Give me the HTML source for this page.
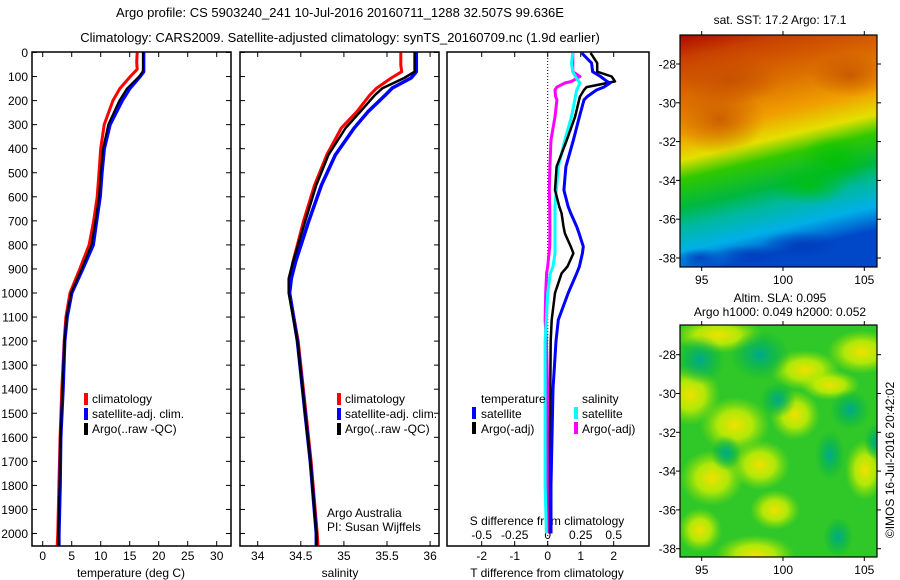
<!DOCTYPE html>
<html><head><meta charset="utf-8">
<style>
body{margin:0;background:#fff;}
svg{display:block;font-family:"Liberation Sans",sans-serif;}
text{fill:#000;}
</style></head>
<body>
<svg id="s" width="900" height="580" viewBox="0 0 900 580">
<defs>
<linearGradient id="sstg" x1="0" y1="0" x2="0.2" y2="1">
<stop offset="0" stop-color="#b00800"/>
<stop offset="0.1" stop-color="#c84000"/>
<stop offset="0.28" stop-color="#dc7000"/>
<stop offset="0.42" stop-color="#f0a000"/>
<stop offset="0.52" stop-color="#e4e000"/>
<stop offset="0.6" stop-color="#30c800"/>
<stop offset="0.72" stop-color="#00b840"/>
<stop offset="0.8" stop-color="#00b8a0"/>
<stop offset="0.9" stop-color="#00b0e8"/>
<stop offset="1" stop-color="#0048c8"/>
</linearGradient>
<radialGradient id="yb"><stop offset="0" stop-color="#f0e000"/><stop offset="0.5" stop-color="#d0f000" stop-opacity="0.8"/><stop offset="1" stop-color="#a0e000" stop-opacity="0"/></radialGradient>
<radialGradient id="tb"><stop offset="0" stop-color="#00a890"/><stop offset="0.5" stop-color="#00b060" stop-opacity="0.6"/><stop offset="1" stop-color="#00b040" stop-opacity="0"/></radialGradient>
<radialGradient id="ob"><stop offset="0" stop-color="#c04800" stop-opacity="0.7"/><stop offset="1" stop-color="#c04800" stop-opacity="0"/></radialGradient>
<radialGradient id="bb"><stop offset="0" stop-color="#0038b8" stop-opacity="0.8"/><stop offset="1" stop-color="#0038b8" stop-opacity="0"/></radialGradient>
<radialGradient id="gb"><stop offset="0" stop-color="#00c000" stop-opacity="0.8"/><stop offset="1" stop-color="#00c000" stop-opacity="0"/></radialGradient>
<clipPath id="c1"><rect x="32" y="52" width="199" height="494"/></clipPath>
<clipPath id="c2"><rect x="240" y="52" width="199" height="494"/></clipPath>
<clipPath id="c3"><rect x="447" y="52" width="202" height="494"/></clipPath>
<clipPath id="m1c"><rect x="680" y="35" width="197" height="232"/></clipPath>
<clipPath id="m2c"><rect x="680" y="325" width="197" height="232"/></clipPath>
</defs>
<g id="root"></g>
</svg>
<script>
const depthT = [0,40,70,80,100,150,200,300,400,500,600,700,800,900,1000,1100,1200,1400,1600,1800,2000,2050];
const tempClim = [16.3,16.2,16.3,15.9,15.1,13.3,12.1,10.6,10.0,9.7,9.4,8.8,8.0,6.4,4.7,4.0,3.7,3.3,3.0,2.8,2.6,2.5];
const tempSat  = [17.4,17.4,17.4,17.4,16.8,15.0,13.7,11.6,10.6,10.2,9.9,9.3,8.7,6.9,5.0,4.2,3.8,3.5,3.1,3.0,2.8,2.8];
const tempArgo = [17.3,17.3,17.3,17.2,16.6,14.5,13.2,11.3,10.4,10.0,9.7,9.1,8.4,6.7,4.9,4.1,3.8,3.4,3.1,2.9,2.7,2.7];
const depthS = [0,52,80,106,148,177,246,314,426,551,703,870,940,1000,1200,1500,1700,2000,2050];
const salClim = [35.66,35.66,35.67,35.55,35.38,35.30,35.15,34.97,34.80,34.66,34.53,34.41,34.37,34.37,34.47,34.56,34.62,34.69,34.70];
const salSat  = [35.84,35.84,35.84,35.78,35.56,35.48,35.28,35.12,34.90,34.74,34.59,34.44,34.39,34.37,34.46,34.55,34.61,34.68,34.68];
const salArgo = [35.82,35.82,35.82,35.70,35.45,35.36,35.19,35.02,34.82,34.68,34.55,34.41,34.36,34.36,34.46,34.55,34.61,34.68,34.68];
const depthD = [2,44,80,100,120,127,144,156,183,197,267,364,475,572,641,669,724,752,807,835,890,918,1000,1112,1200,1400,1600,1800,2000];
const dTsat  = [1.03,1.33,1.36,1.6,1.8,1.89,1.7,1.48,1.2,1.1,0.96,0.78,0.55,0.49,0.62,0.7,0.88,0.95,1.08,1.05,0.96,0.88,0.62,0.32,0.25,0.16,0.13,0.10,0.10];
const dTargo = [1.3,1.5,1.5,1.94,2.04,1.8,1.18,1.1,0.98,0.95,0.83,0.58,0.27,0.22,0.35,0.42,0.48,0.52,0.7,0.78,0.6,0.42,0.22,0.12,0.09,0.08,0.07,0.07,0.07];
const dSsat  = [0.19,0.18,0.19,0.21,0.235,0.245,0.23,0.22,0.21,0.205,0.18,0.13,0.08,0.065,0.055,0.055,0.055,0.055,0.055,0.055,0.04,0.02,0.0,-0.01,-0.02,-0.02,-0.02,-0.02,-0.01];
const dSargo = [0.19,0.19,0.19,0.245,0.18,0.13,0.07,0.055,0.06,0.07,0.055,0.025,0.017,0.012,0.015,0.016,0.017,0.017,0.015,0.01,0.0,-0.008,-0.015,-0.02,-0.01,0.0,0.0,0.0,0.0];
const depthTicks = [0,100,200,300,400,500,600,700,800,900,1000,1100,1200,1300,1400,1500,1600,1700,1800,1900,2000];
const tempTicks = [0,5,10,15,20,25,30];
const salTicks = [34,34.5,35,35.5,36];
const salTickLabels = ["34","34.5","35","35.5","36"];
const dTTicks = [-2,-1,0,1,2];
const dSTicks = [-0.5,-0.25,0,0.25,0.5];
const latTicks = [-28,-30,-32,-34,-36,-38];
const lonTicks = [95,100,105];

const NS='http://www.w3.org/2000/svg';
const root=document.getElementById('root');
function mk(tag,attrs,parent){const e=document.createElementNS(NS,tag);for(const k in attrs)e.setAttribute(k,attrs[k]);(parent||root).appendChild(e);return e;}
function txt(x,y,s,anchor,size,parent){const t=mk('text',{x:x,y:y,'font-size':size||12,'text-anchor':anchor||'start'},parent);t.textContent=s;return t;}

const yD = d => 52.5 + d*0.2405;
const xT = v => 42.7 + v*5.8;
const xS = v => 257.7 + (v-34)*86.2;
const xDT = v => 547.7 + v*33;
const xDS = v => 547.7 + v*132;

function line(depths, vals, xf, color, w, clip, name){
  let d='';
  for(let i=0;i<depths.length;i++){d+=(i?'L':'M')+xf(vals[i]).toFixed(1)+','+yD(depths[i]).toFixed(1);}
  const p=mk('path',{d:d,fill:'none',stroke:color,'stroke-width':w,'stroke-linejoin':'round','clip-path':'url(#'+clip+')'});
  
  
  return p;
}

function panel(x0,x1,name){
  const g=mk('g',{});
  
  
  mk('rect',{x:x0,y:52,width:x1-x0,height:494,fill:'none',stroke:'#000','stroke-width':1.5},g);
  for(const d of depthTicks){const y=yD(d);mk('line',{x1:x0,x2:x0+5,y1:y,y2:y,stroke:'#000'},g);mk('line',{x1:x1-5,x2:x1,y1:y,y2:y,stroke:'#000'},g);}
  return g;
}

let t=txt(340,17,'Argo profile: CS 5903240_241 10-Jul-2016 20160711_1288 32.507S 99.636E','middle',13);


t=txt(340,42,'Climatology: CARS2009. Satellite-adjusted climatology: synTS_20160709.nc (1.9d earlier)','middle',13);



panel(32,231,'temperature-panel');
for(const d of depthTicks){const l=txt(28,yD(d)+4.5,String(d),'end',12);}
for(const v of tempTicks){const x=xT(v);mk('line',{x1:x,x2:x,y1:52,y2:57,stroke:'#000'});mk('line',{x1:x,x2:x,y1:541,y2:546,stroke:'#000'});const l=txt(x,560,String(v),'middle',12);}
t=txt(131,577,'temperature (deg C)','middle',12);
line(depthT,tempClim,xT,'#ff0000',3,'c1','temp-climatology-line');
line(depthT,tempSat,xT,'#0000ff',3.5,'c1','temp-satellite-line');
line(depthT,tempArgo,xT,'#000',2,'c1','temp-argo-line');

panel(240,439,'salinity-panel');
salTicks.forEach((v,i)=>{const x=xS(v);mk('line',{x1:x,x2:x,y1:52,y2:57,stroke:'#000'});mk('line',{x1:x,x2:x,y1:541,y2:546,stroke:'#000'});const l=txt(x,560,salTickLabels[i],'middle',12);});
t=txt(340,577,'salinity','middle',12);
line(depthS,salClim,xS,'#ff0000',3,'c2','sal-climatology-line');
line(depthS,salSat,xS,'#0000ff',3.5,'c2','sal-satellite-line');
line(depthS,salArgo,xS,'#000',2.5,'c2','sal-argo-line');
t=txt(327,517,'Argo Australia','start',12);
t=txt(327,531,'PI: Susan Wijffels','start',12);

function legend(x,y,items,name){
  const g=mk('g',{});
  
  
  items.forEach((it,i)=>{const yy=y+i*15;mk('rect',{x:x,y:yy-10,width:4,height:12,fill:it[0]},g);txt(x+8,yy,it[1],'start',12,g);});
}
legend(84,403,[['#ff0000','climatology'],['#0000ff','satellite-adj. clim.'],['#000','Argo(..raw -QC)']],'temperature-legend');
legend(337,403,[['#ff0000','climatology'],['#0000ff','satellite-adj. clim.'],['#000','Argo(..raw -QC)']],'salinity-legend');

const p3=mk('g',{});


mk('rect',{x:447,y:52,width:202,height:494,fill:'none',stroke:'#000','stroke-width':1.5},p3);
mk('line',{x1:547.7,x2:547.7,y1:52,y2:546,stroke:'#000','stroke-dasharray':'1,2'},p3);
for(const v of dTTicks){const x=xDT(v);mk('line',{x1:x,x2:x,y1:52,y2:57,stroke:'#000'});mk('line',{x1:x,x2:x,y1:541,y2:546,stroke:'#000'});const l=txt(x,560,String(v),'middle',12);}
t=txt(547,577,'T difference from climatology','middle',12);
for(const v of dSTicks){const l=txt(xDS(v),539,String(v),'middle',12);}
t=txt(547,525,'S difference from climatology','middle',12);
line(depthD,dSargo,xDS,'#ff00ff',3,'c3','ds-argo-line');
line(depthD,dSsat,xDS,'#00ffff',3,'c3','ds-satellite-line');
line(depthD,dTargo,xDT,'#000',2.5,'c3','dt-argo-line');
line(depthD,dTsat,xDT,'#0000ff',3,'c3','dt-satellite-line');
const lg=mk('g',{});
txt(481,403,'temperature','start',12,lg);txt(582,403,'salinity','start',12,lg);
mk('rect',{x:472,y:407,width:4,height:12,fill:'#0000ff'},lg);txt(481,418,'satellite','start',12,lg);
mk('rect',{x:472,y:422,width:4,height:12,fill:'#000'},lg);txt(481,433,'Argo(-adj)','start',12,lg);
mk('rect',{x:574,y:407,width:4,height:12,fill:'#00ffff'},lg);txt(582,418,'satellite','start',12,lg);
mk('rect',{x:574,y:422,width:4,height:12,fill:'#ff00ff'},lg);txt(582,433,'Argo(-adj)','start',12,lg);

function mapAxes(y0,y1,latTop,name){
  const g=mk('g',{});
  
  
  const xL=v=>701.7+(v-95)*16.26;
  const yL=v=>latTop+(-28-v)*19.4;
  mk('rect',{x:680,y:y0,width:197,height:y1-y0,fill:'none',stroke:'#000','stroke-width':1.2},g);
  for(const v of lonTicks){const x=xL(v);mk('line',{x1:x,x2:x,y1:y0-4,y2:y0,stroke:'#000'},g);mk('line',{x1:x,x2:x,y1:y1,y2:y1+4,stroke:'#000'},g);txt(x,y1+17,String(v),'middle',12,g);}
  for(const v of latTicks){const y=yL(v);mk('line',{x1:676,x2:680,y1:y,y2:y,stroke:'#000'},g);mk('line',{x1:877,x2:881,y1:y,y2:y,stroke:'#000'},g);txt(676,y+4.5,String(v),'end',12,g);}
  return g;
}
const m1=mk('g',{'clip-path':'url(#m1c)'});
mk('rect',{x:680,y:35,width:197,height:232,fill:'url(#sstg)'},m1);
const sstBlobs=[[720,120,45,35,'ob'],[730,80,50,25,'ob'],[850,75,40,22,'ob'],[835,160,35,25,'gb'],[810,185,40,20,'gb'],[800,245,40,14,'bb'],[750,255,40,10,'bb'],[700,258,25,10,'bb']];
for(const b of sstBlobs) mk('ellipse',{cx:b[0],cy:b[1],rx:b[2],ry:b[3],fill:'url(#'+b[4]+')'},m1);
mapAxes(35,267,64,'sst-map-axes');
t=txt(780,24,'sat. SST: 17.2 Argo: 17.1','middle',12);

const m2=mk('g',{'clip-path':'url(#m2c)'});
mk('rect',{x:680,y:325,width:197,height:232,fill:'#30c828'},m2);
const blobs=[[718,335,45,18,'yb'],[690,395,30,30,'yb'],[735,425,35,28,'yb'],[712,478,32,28,'yb'],[755,555,40,20,'yb'],[805,370,35,20,'yb'],[862,352,35,22,'yb'],[760,465,30,25,'yb'],[795,415,25,25,'yb'],[700,530,22,22,'yb'],[830,385,30,15,'yb'],[775,510,25,20,'yb'],[865,470,20,30,'yb'],
 [778,400,18,18,'tb'],[726,453,15,18,'tb'],[838,537,15,20,'tb'],[876,442,12,18,'tb'],[830,455,15,25,'tb'],[700,360,25,25,'tb'],[760,355,30,25,'tb'],[850,410,20,20,'tb']];
for(const b of blobs) mk('ellipse',{cx:b[0],cy:b[1],rx:b[2],ry:b[3],fill:'url(#'+b[4]+')'},m2);
mapAxes(325,557,354.7,'sla-map-axes');
t=txt(780,302,'Altim. SLA: 0.095','middle',12);
t=txt(780,316,'Argo h1000: 0.049 h2000: 0.052','middle',12);
t=txt(0,0,'©IMOS 16-Jul-2016 20:42:02','middle',12);
t.setAttribute('transform','translate(894,460) rotate(-90)');

</script>
</body></html>
